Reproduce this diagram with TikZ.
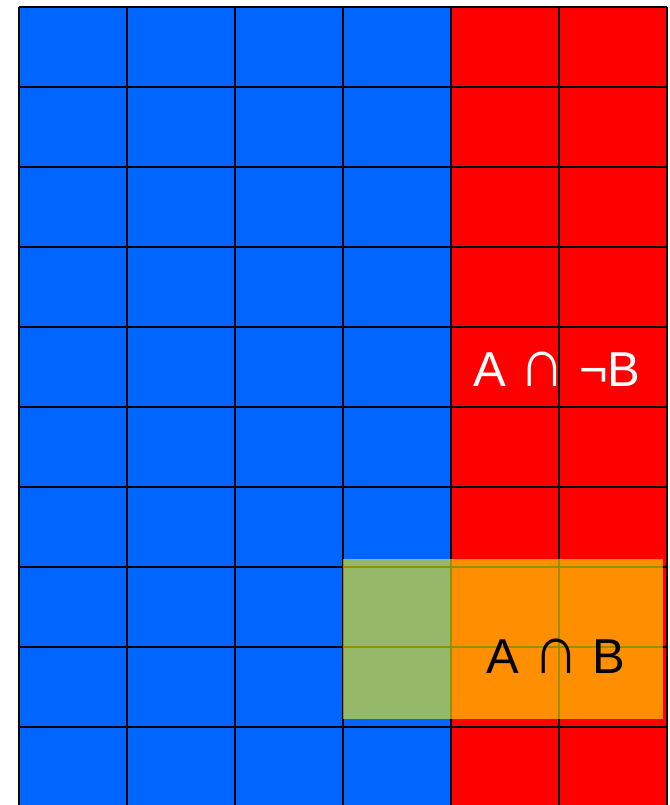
\documentclass[tikz,border=0pt]{standalone}
\usepackage{fontspec}
\usepackage{graphicx}
\setmainfont{Liberation Sans}
\newcommand{\bigcapsym}{\scalebox{1.3}[1.4]{∩}}
\begin{document}
\begin{tikzpicture}[x=1pt,y=-1pt,
  gridline/.style={line width=2.6pt,black},
  bluecell/.style={fill={rgb,255:red,0;green,102;blue,255}},
  redcell/.style={fill={rgb,255:red,255;green,0;blue,0}},
  overlay/.style={fill={rgb,255:red,255;green,244;blue,0},fill opacity=0.59},
  lbl/.style={font=\fontsize{49}{56}\selectfont,inner sep=0pt,anchor=base}]
\useasboundingbox (0,0) rectangle (669,805);
\fill[white] (0,0) rectangle (669,805);
\fill[bluecell] (19,7) rectangle (451,810);
\fill[redcell] (451,7) rectangle (667,810);
\foreach \x in {19,127,235,343,451,559,667} \draw[gridline] (\x,7) -- (\x,810);
\foreach \y in {7,87,167,247,327,407,487,567,647,727} \draw[gridline] (19,\y) -- (667,\y);
\node[lbl,text=white] (anb) at (557,386) {A \bigcapsym{} ¬B};
\fill[overlay] (343,559) rectangle (663,719);
\node[lbl,text=black] (ab) at (556,673) {A \bigcapsym{} B};
\end{tikzpicture}
\end{document}
